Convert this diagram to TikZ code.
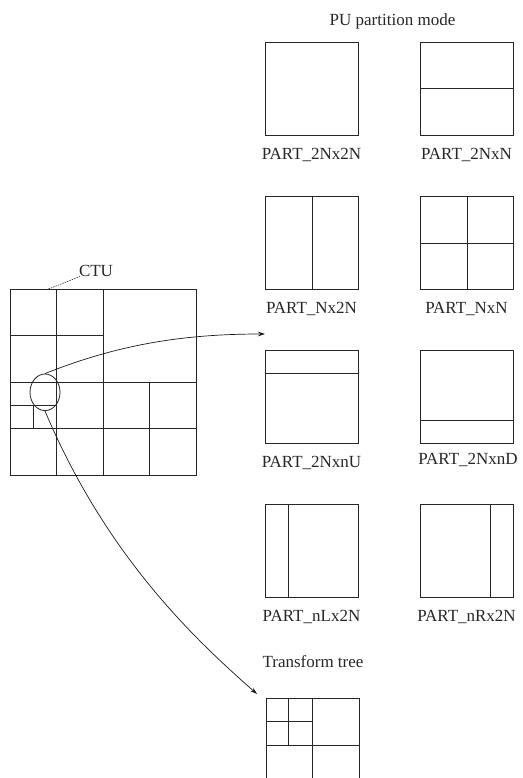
\documentclass[tikz,border=0pt]{standalone}
\usepackage{fontspec}
\setmainfont{Liberation Serif}
\usetikzlibrary{arrows.meta,shapes.geometric}
\begin{document}
\begin{tikzpicture}[x=1pt,y=-1pt,
  ln/.style={line width=0.8pt, draw=black!85},
  lbl/.style={font=\fontsize{17}{20}\selectfont, inner sep=0pt, text=black!85},
  arr/.style={line width=0.7pt, draw=black!90, -{Stealth[length=7pt,width=4.5pt]}},
  pubox/.style={ln, draw, minimum width=93pt, minimum height=93pt, inner sep=0pt, anchor=north west}
]
\clip (0,0) rectangle (522,778);

% title
\node[lbl] (title) at (392.5,21) {PU partition mode};

% row 1
\node[pubox] (b1) at (265,42) {};
\node[pubox] (b2) at (420,42) {};
\draw[ln] (b2.west) -- (b2.east);
\node[lbl] (l1) at (311.5,155) {PART\_2Nx2N};
\node[lbl] (l2) at (466.5,155) {PART\_2NxN};

% row 2
\node[pubox] (b3) at (265,196) {};
\node[pubox] (b4) at (420,196) {};
\draw[ln] (b3.north) -- (b3.south);
\draw[ln] (b4.north) -- (b4.south);
\draw[ln] (b4.west) -- (b4.east);
\node[lbl] (l3) at (311.5,309) {PART\_Nx2N};
\node[lbl] (l4) at (466.5,309) {PART\_NxN};

% row 3
\node[pubox] (b5) at (265,350) {};
\node[pubox] (b6) at (420,350) {};
\draw[ln] ([yshift=-23.25pt]b5.north west) -- ([yshift=-23.25pt]b5.north east);
\draw[ln] ([yshift=23.25pt]b6.south west) -- ([yshift=23.25pt]b6.south east);
\node[lbl] (l5) at (311.5,463) {PART\_2NxnU};
\node[lbl] (l6) at (468,460) {PART\_2NxnD};

% row 4
\node[pubox] (b7) at (265,504) {};
\node[pubox] (b8) at (420,504) {};
\draw[ln] ([xshift=23.25pt]b7.north west) -- ([xshift=23.25pt]b7.south west);
\draw[ln] ([xshift=-23.25pt]b8.north east) -- ([xshift=-23.25pt]b8.south east);
\node[lbl] (l7) at (311.5,617) {PART\_nLx2N};
\node[lbl] (l8) at (466.5,617) {PART\_nRx2N};

% transform tree
\node[lbl] (ttl) at (313,662) {Transform tree};
\node[pubox] (tt) at (265.5,698) {};
\draw[ln] (tt.north) -- (tt.south);
\draw[ln] (tt.west) -- (tt.east);
\draw[ln] (288.75,698) -- (288.75,744.5);
\draw[ln] (265.5,721.25) -- (312,721.25);

% CTU
\node[ln, draw, minimum width=186pt, minimum height=186pt, inner sep=0pt, anchor=north west] (ctu) at (10,289) {};
\draw[ln] (ctu.north) -- (ctu.south);
\draw[ln] (ctu.west) -- (ctu.east);
\draw[ln] (56.5,289) -- (56.5,475);
\draw[ln] (10,335.5) -- (103,335.5);
\draw[ln] (10,428.5) -- (196,428.5);
\draw[ln] (149.5,382) -- (149.5,475);
\draw[ln] (10,405.25) -- (56.5,405.25);
\draw[ln] (33.25,405.25) -- (33.25,428.5);

\node[lbl] (ctul) at (96,271) {CTU};
\coordinate (ctuA) at (48.5,289);
\coordinate (ctuB) at (80,276.5);
\draw[line width=0.6pt, black!85, dash pattern=on 1.5pt off 1pt] (ctuA) -- (ctuB);

% selection ellipse
\node[ellipse, ln, draw, minimum width=30pt, minimum height=36.6pt, inner sep=0pt] (sel) at (45,392.3) {};

% arrows
\coordinate (t1) at (265,334);
\draw[arr] (sel.north) .. controls (119,344) and (185,334) .. (t1);
\coordinate (t2) at (257,694);
\draw[arr] (sel.south) .. controls (107,558) and (197,641) .. (t2);
\end{tikzpicture}
\end{document}
